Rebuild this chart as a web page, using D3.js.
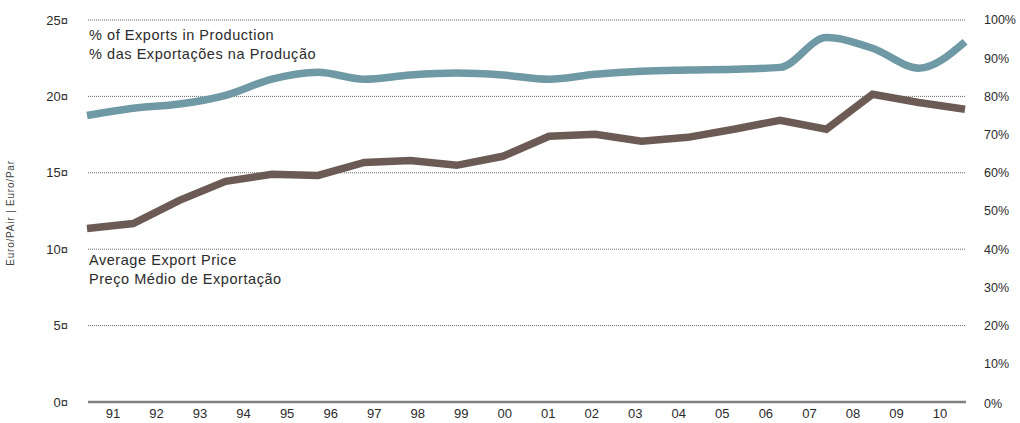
<!DOCTYPE html>
<html>
<head>
<meta charset="utf-8">
<script src="https://cdn.jsdelivr.net/npm/d3@7"></script>
<style>
  html, body { margin: 0; padding: 0; background: #fff; }
  svg { display: block; font-family: "Liberation Sans", Arial, Helvetica, sans-serif; }
</style>
</head>
<body>
<svg id="chart" width="1020" height="423"></svg>
<script>
// Years shown on the x axis
const years = ["91","92","93","94","95","96","97","98","99","00","01","02","03","04","05","06","07","08","09","10"];

// Average export price (Euro per pair), left axis
const avgPrice = [11.35, 11.68, 13.2, 14.44, 14.9, 14.83, 15.68, 15.81, 15.49, 16.08, 17.39, 17.52, 17.06, 17.32, 17.85, 18.44, 17.85, 20.14, 19.6, 19.16];

// Share of exports in production (%), right axis
const exportShare = [75.0, 76.9, 78.0, 80.3, 84.5, 86.3, 84.5, 85.6, 86.1, 85.6, 84.5, 85.8, 86.6, 86.9, 87.1, 87.6, 95.4, 92.6, 87.4, 94.3];

const leftTicks = [0, 5, 10, 15, 20, 25];
const rightTicks = [0, 10, 20, 30, 40, 50, 60, 70, 80, 90, 100];

const svg = d3.select("#chart");
const x0 = 88, x1 = 965, yTop = 20, yBottom = 402;
const ink = "#2b2b2b";

const xLine = d3.scalePoint().domain(years).range([x0 - 1, x1]);
const xLabel = d3.scalePoint().domain(years).range([x0, x1]).padding(0.575);
const yLeft = d3.scaleLinear().domain([0, 25]).range([yBottom, yTop]);
const yRight = d3.scaleLinear().domain([0, 100]).range([yBottom, yTop]);

// Dotted gridlines at the left-axis ticks
svg.append("g")
  .selectAll("line")
  .data(leftTicks.filter(d => d > 0))
  .join("line")
  .attr("x1", x0).attr("x2", x1)
  .attr("y1", d => yLeft(d)).attr("y2", d => yLeft(d))
  .attr("stroke", "#666")
  .attr("stroke-width", 1)
  .attr("stroke-dasharray", "1,1");

// Solid baseline
svg.append("line")
  .attr("x1", x0).attr("x2", x1 + 1)
  .attr("y1", yLeft(0)).attr("y2", yLeft(0))
  .attr("stroke", "#808080")
  .attr("stroke-width", 2.5);

// Left axis labels
svg.append("g")
  .selectAll("text")
  .data(leftTicks)
  .join("text")
  .attr("x", 68)
  .attr("y", d => yLeft(d))
  .attr("dy", "0.35em")
  .attr("text-anchor", "end")
  .attr("font-size", 13)
  .attr("fill", ink)
  .text(d => d + "¤");

// Right axis labels
svg.append("g")
  .selectAll("text")
  .data(rightTicks)
  .join("text")
  .attr("x", 984)
  .attr("y", d => yRight(d) + (d === 0 ? 2 : 0))
  .attr("dy", "0.35em")
  .attr("text-anchor", "start")
  .attr("font-size", 12.5)
  .attr("fill", ink)
  .text(d => d + "%");

// X axis labels
svg.append("g")
  .selectAll("text")
  .data(years)
  .join("text")
  .attr("x", d => xLabel(d))
  .attr("y", 413)
  .attr("dy", "0.35em")
  .attr("text-anchor", "middle")
  .attr("font-size", 13)
  .attr("fill", ink)
  .text(d => d);

// Left axis title
svg.append("text")
  .attr("transform", "translate(14,213) rotate(-90)")
  .attr("text-anchor", "middle")
  .attr("font-size", 10)
  .attr("letter-spacing", 0.8)
  .attr("fill", "#444")
  .text("Euro/PAir | Euro/Par");

// Export share: smooth line
svg.append("path")
  .datum(exportShare)
  .attr("fill", "none")
  .attr("stroke", "#6f99a5")
  .attr("stroke-width", 7.5)
  .attr("d", d3.line()
    .x((d, i) => xLine(years[i]))
    .y(d => yRight(d))
    .curve(d3.curveMonotoneX));

// Average price: straight segments
svg.append("path")
  .datum(avgPrice)
  .attr("fill", "none")
  .attr("stroke", "#6b5b54")
  .attr("stroke-width", 7.5)
  .attr("stroke-linejoin", "miter")
  .attr("d", d3.line()
    .x((d, i) => xLine(years[i]))
    .y(d => yLeft(d)));

// Series captions
const captions = [
  { lines: ["% of Exports in Production", "% das Exportações na Produção"], y: 40 },
  { lines: ["Average Export Price", "Preço Médio de Exportação"], y: 265 }
];
captions.forEach(c => {
  c.lines.forEach((t, i) => {
    svg.append("text")
      .attr("x", 89)
      .attr("y", c.y + i * 18.5)
      .attr("font-size", 14.5)
      .attr("letter-spacing", 0.55)
      .attr("fill", ink)
      .text(t);
  });
});
</script>
</body>
</html>
